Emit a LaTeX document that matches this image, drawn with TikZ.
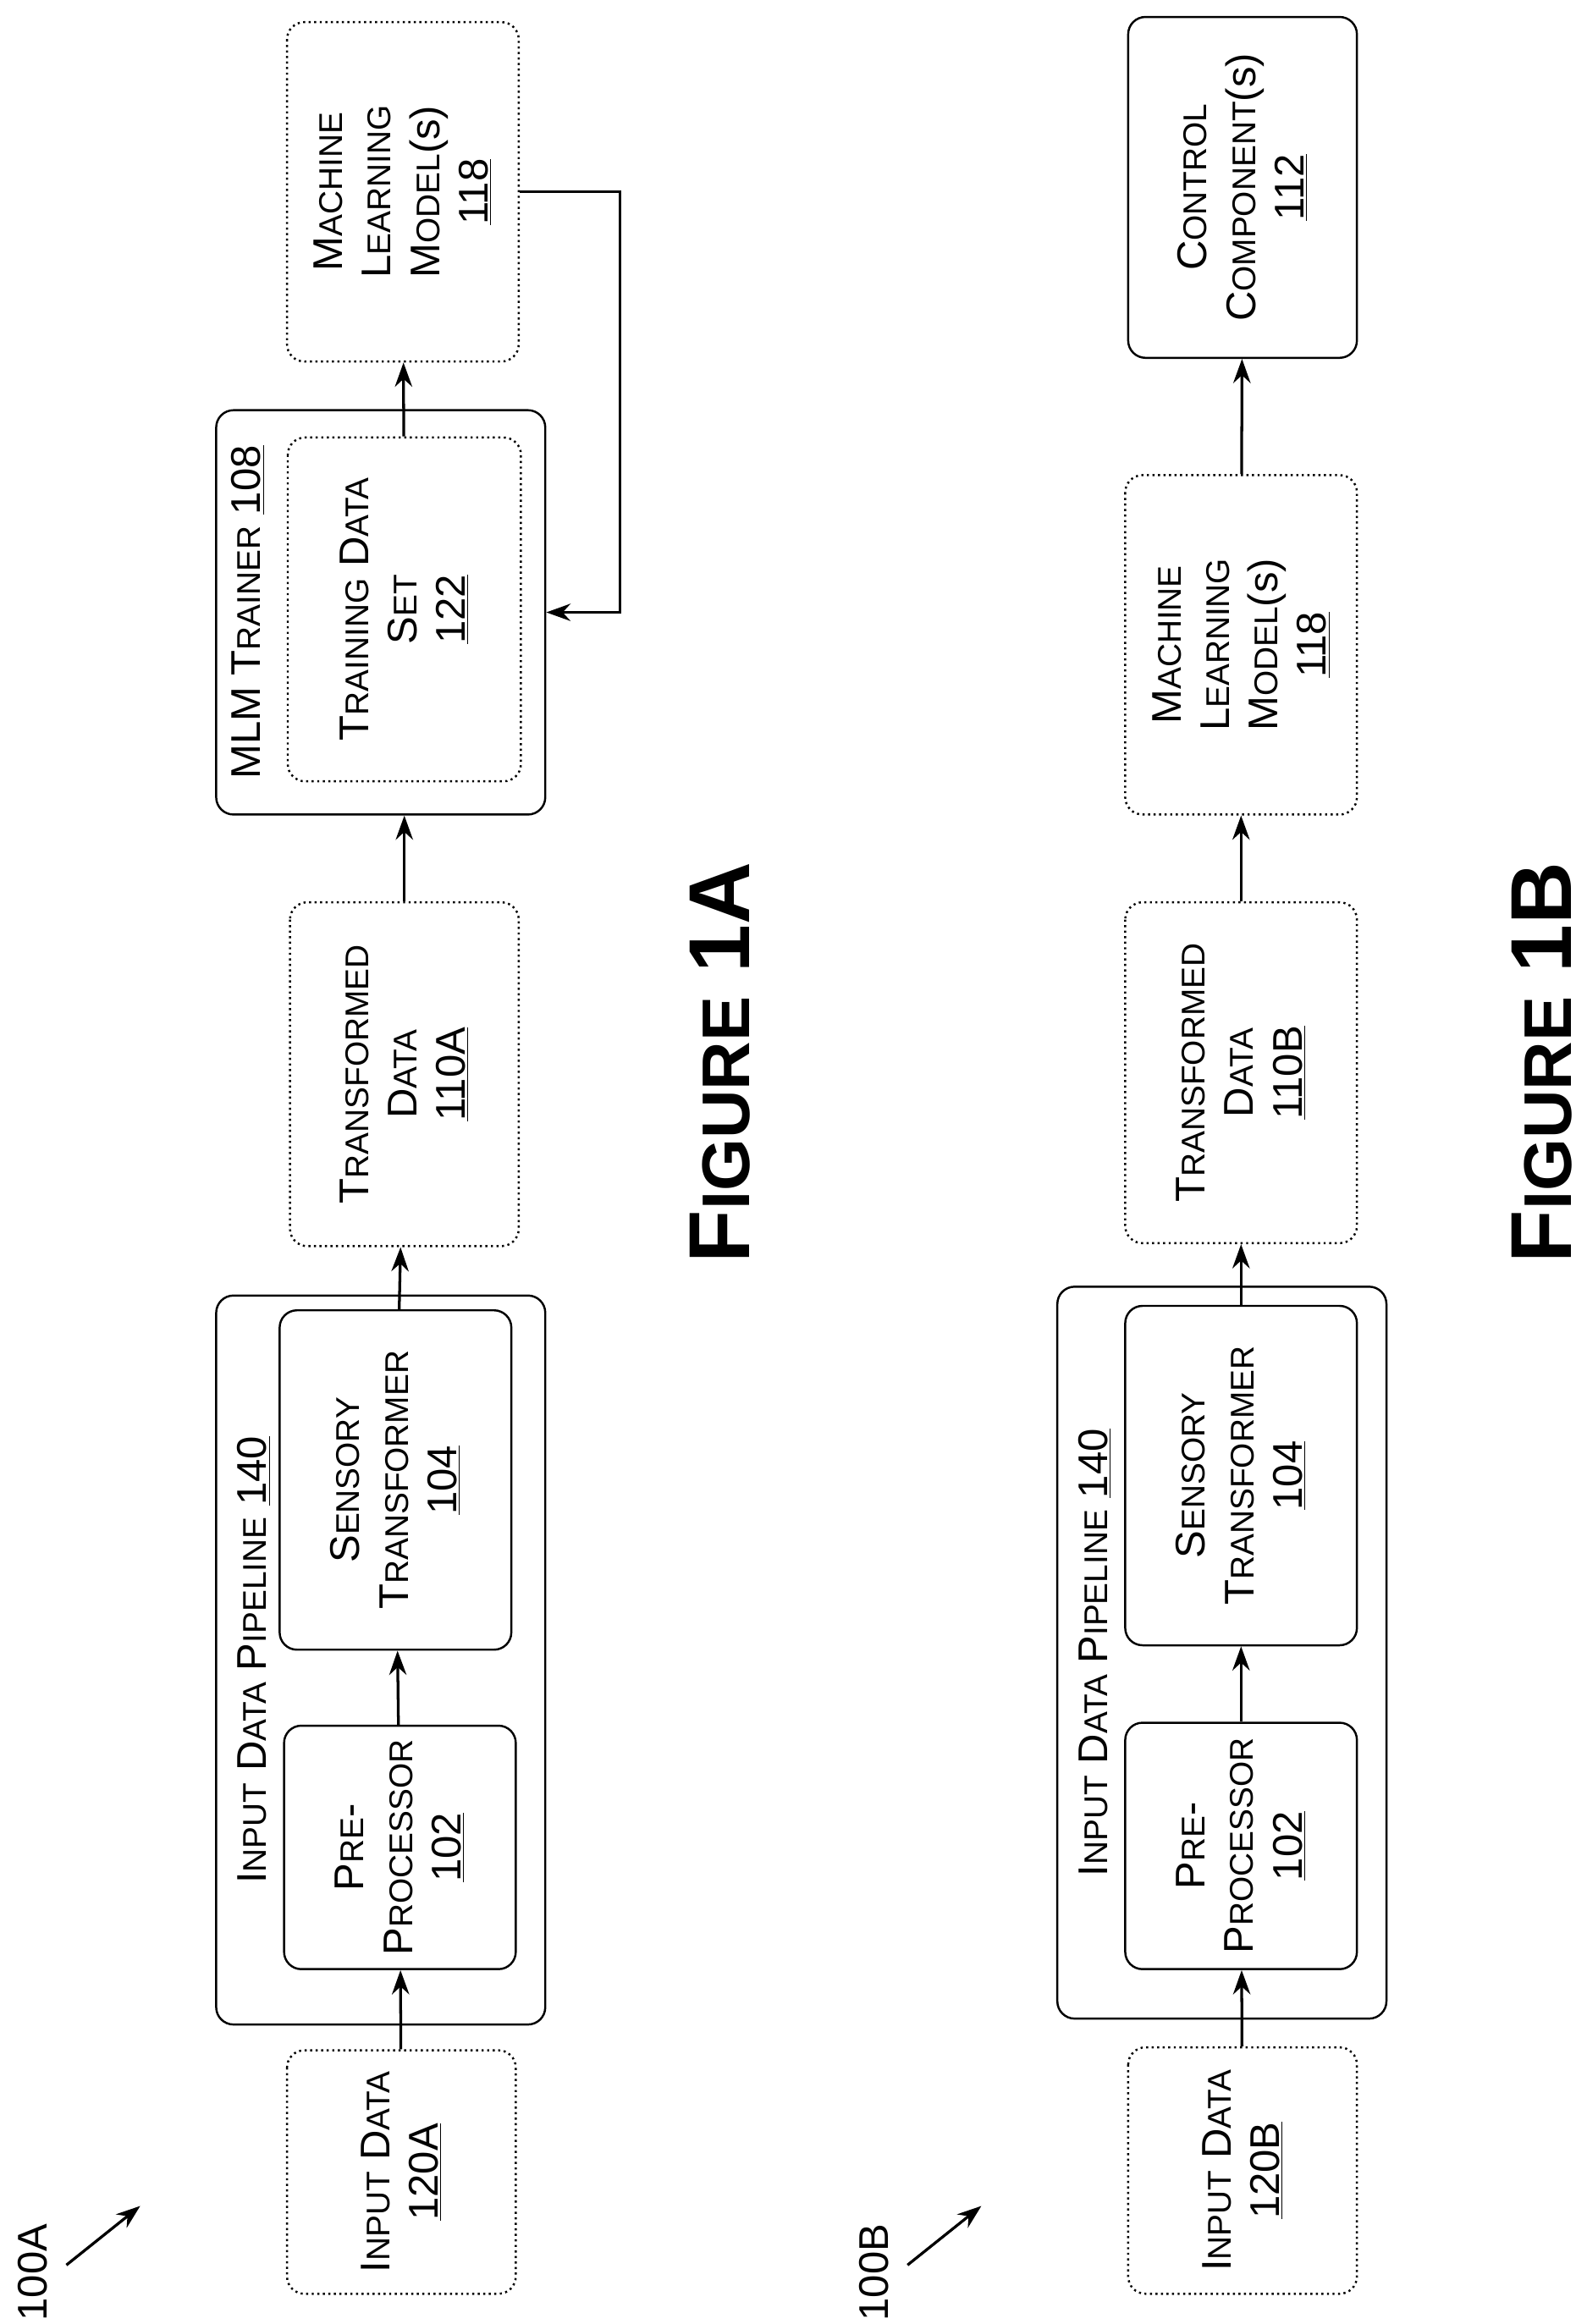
\documentclass[tikz,border=0pt]{standalone}
\usepackage{fontspec}
\setmainfont{Liberation Sans}
\usetikzlibrary{arrows.meta}
\newcommand{\capsw}[2]{#1{\fontsize{19}{25}\selectfont\MakeUppercase{#2}}}
\tikzset{
  dbox/.style 2 args={draw, dotted, line width=1.2pt, rounded corners=10pt, rotate=90,
    minimum width=#1cm, minimum height=#2cm, align=center, inner sep=0pt},
  sbox/.style 2 args={dbox={#1}{#2}, solid},
  lbl/.style={rotate=90, inner sep=0pt},
  flow/.style={-{Stealth[length=14pt,width=10pt]}, line width=1.6pt},
}
\begin{document}
\begin{tikzpicture}[x=0.03cm, y=-0.03cm, font=\fontsize{24}{28}\selectfont]
  \useasboundingbox (0,0) rectangle (1075,1575);
  % figure 1A
  \node (in1) at (272,1472) [dbox={4.95}{4.65}] {\capsw{I}{nput} \capsw{D}{ata}\\\underline{120A}};
  \node (pipe1) at (258,1125) [sbox={14.82}{6.69}] {};
  \node (pre1) at (271,1252) [sbox={4.95}{4.71}] {\capsw{P}{re}-\\\capsw{P}{rocessor}\\\underline{102}};
  \node (sen1) at (268,1003) [sbox={6.9}{4.71}] {\capsw{S}{ensory}\\\capsw{T}{ransformer}\\\underline{104}};
  \node (pl1) at (172,1125) [lbl] {\capsw{I}{nput} \capsw{D}{ata} \capsw{P}{ipeline} \underline{140}};
  \node (tra1) at (274,728) [dbox={6.99}{4.65}] {\capsw{T}{ransformed}\\\capsw{D}{ata}\\\underline{110A}};
  \node (mlt) at (258,415) [sbox={8.22}{6.69}] {};
  \node (mltl) at (168,415) [lbl] {MLM \capsw{T}{rainer} \underline{108}};
  \node (tds) at (274,413) [dbox={6.99}{4.74}] {\capsw{T}{raining} \capsw{D}{ata}\\\capsw{S}{et}\\\underline{122}};
  \node (ml1) at (273,130) [dbox={6.9}{4.71}] {\capsw{M}{achine}\\\capsw{L}{earning}\\\capsw{M}{odel}(\textsc{s})\\\underline{118}};
  \node (fig1) at (488,720) [lbl, font=\fontsize{50}{56}\selectfont\bfseries] {\capsw{F}{\fontsize{39}{46}\selectfont igure} 1A};
  \node (r1) at (22,1540) [lbl] {100A};
  \coordinate (p1) at (45,1535);
  \coordinate (q1) at (95,1495);
  \draw [flow] (p1) -- (q1);
  \draw [flow] (in1) -- (pre1);
  \draw [flow] (pre1) -- (sen1);
  \draw [flow] (sen1) -- (tra1);
  \draw [flow] (tra1.east) -- (tra1.east |- mlt.west);
  \draw [flow] (tds) -- (ml1);
  \draw [flow] (ml1.south) -- ++(68,0) |- (mlt.south);
  % figure 1B
  \node (in2) at (842,1471) [dbox={5.01}{4.65}] {\capsw{I}{nput} \capsw{D}{ata}\\\underline{120B}};
  \node (pipe2) at (828,1120) [sbox={14.88}{6.69}] {};
  \node (pre2) at (841,1251) [sbox={5.01}{4.71}] {\capsw{P}{re}-\\\capsw{P}{rocessor}\\\underline{102}};
  \node (sen2) at (841,1000) [sbox={6.9}{4.71}] {\capsw{S}{ensory}\\\capsw{T}{ransformer}\\\underline{104}};
  \node (pl2) at (742,1120) [lbl] {\capsw{I}{nput} \capsw{D}{ata} \capsw{P}{ipeline} \underline{140}};
  \node (tra2) at (841,727) [dbox={6.93}{4.71}] {\capsw{T}{ransformed}\\\capsw{D}{ata}\\\underline{110B}};
  \node (ml2) at (841,437) [dbox={6.9}{4.71}] {\capsw{M}{achine}\\\capsw{L}{earning}\\\capsw{M}{odel}(\textsc{s})\\\underline{118}};
  \node (ctl) at (842,127) [sbox={6.93}{4.65}] {\capsw{C}{ontrol}\\\capsw{C}{omponent}(\textsc{s})\\\underline{112}};
  \node (fig2) at (1045,720) [lbl, font=\fontsize{50}{56}\selectfont\bfseries] {\capsw{F}{\fontsize{39}{46}\selectfont igure} 1B};
  \node (r2) at (592,1540) [lbl] {100B};
  \coordinate (p2) at (615,1535);
  \coordinate (q2) at (665,1495);
  \draw [flow] (p2) -- (q2);
  \draw [flow] (in2) -- (pre2);
  \draw [flow] (pre2) -- (sen2);
  \draw [flow] (sen2) -- (tra2);
  \draw [flow] (tra2) -- (ml2);
  \draw [flow] (ml2) -- (ctl);
\end{tikzpicture}
\end{document}
